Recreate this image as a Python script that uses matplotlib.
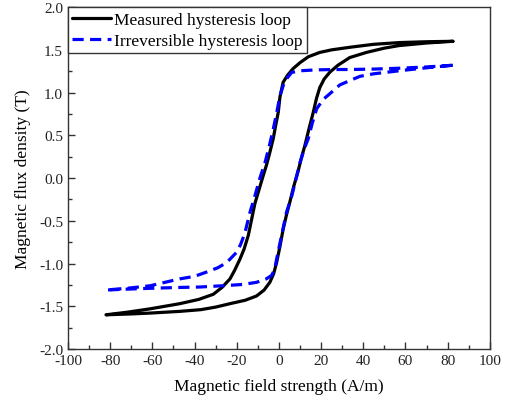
import numpy as np
import matplotlib.pyplot as plt
from matplotlib.ticker import MultipleLocator

# Measured hysteresis loop: descending branch (H from +82 to -82)
meas_desc_H = [82.5, 70, 57, 45, 33.6, 25, 19.4, 14, 10, 6.7, 4, 2, 0.5, -0.3, -1.5, -2.7,
               -4.3, -5.8, -7.3, -9, -11.4, -14.5, -16.5, -18.5, -21, -23.2, -27, -31.1,
               -38, -47, -61, -72, -82]
meas_desc_B = [1.60, 1.595, 1.585, 1.565, 1.53, 1.50, 1.47, 1.42, 1.35, 1.28, 1.20, 1.12,
               0.95, 0.77, 0.62, 0.46, 0.30, 0.16, 0.04, -0.10, -0.30, -0.67, -0.83, -0.95,
               -1.08, -1.18, -1.28, -1.36, -1.42, -1.47, -1.53, -1.57, -1.60]
# Measured hysteresis loop: ascending branch
meas_asc_H = [-82, -70, -61, -47, -37, -30, -23.2, -16, -10.6, -7, -4.3, -2.5, -1.1, 0.5, 2,
              3.6, 5.2, 7, 9.1, 10.5, 12.3, 14.3, 16.3, 17.8, 19.4, 21.5, 24.2, 28, 33.6,
              41.5, 50, 57, 70, 82.5]
meas_asc_B = [-1.60, -1.59, -1.58, -1.56, -1.54, -1.51, -1.47, -1.43, -1.38, -1.31, -1.22,
              -1.12, -0.99, -0.80, -0.60, -0.43, -0.28, -0.10, 0.08, 0.22, 0.38, 0.58, 0.77,
              0.93, 1.06, 1.16, 1.24, 1.32, 1.41, 1.47, 1.52, 1.55, 1.58, 1.60]

# Irreversible hysteresis loop: descending branch
irr_desc_H = [82.5, 70, 57, 45, 33.6, 25.6, 17, 10, 6, 3.6, 2, 0.5, -1, -2.7, -4.5, -6.6,
              -9, -11.4, -13.7, -16.1, -18.2, -20.1, -24.8, -29, -34.3, -40, -47, -61, -72, -82]
irr_desc_B = [1.32, 1.30, 1.285, 1.275, 1.27, 1.27, 1.265, 1.255, 1.235, 1.16, 1.08, 0.96,
              0.77, 0.57, 0.38, 0.18, 0.0, -0.21, -0.40, -0.64, -0.78, -0.87, -0.99, -1.05,
              -1.10, -1.15, -1.18, -1.26, -1.29, -1.31]
# Irreversible hysteresis loop: ascending branch
irr_asc_H = [-82, -72, -61, -47, -37.4, -26.5, -17, -10.6, -6, -3.5, -2, -1.1, 0, 1.3, 3.6,
             6, 8.2, 10, 12, 13.9, 15.8, 17.9, 21, 25.7, 28.9, 33.6, 38.4, 45, 57, 70, 82.5]
irr_asc_B = [-1.31, -1.30, -1.29, -1.28, -1.275, -1.26, -1.245, -1.22, -1.18, -1.14, -1.07,
             -0.95, -0.82, -0.67, -0.40, -0.22, 0.0, 0.18, 0.34, 0.46, 0.64, 0.81, 0.92, 1.02,
             1.09, 1.14, 1.19, 1.22, 1.255, 1.29, 1.32]

plt.rcParams['font.family'] = ['Liberation Serif', 'DejaVu Serif']
plt.rcParams['axes.unicode_minus'] = False

fig = plt.figure(figsize=(5.06, 4.06), dpi=100)
ax = fig.add_axes([0.1344, 0.138, 0.968 - 0.1344, 0.980 - 0.138])

meas_H = meas_desc_H + meas_asc_H
meas_B = meas_desc_B + meas_asc_B
irr_H = irr_desc_H + irr_asc_H
irr_B = irr_desc_B + irr_asc_B

ax.plot(meas_H, meas_B, color='black', lw=2.3, solid_joinstyle='round',
        solid_capstyle='round', label='Measured hysteresis loop')
ax.plot(irr_H, irr_B, color='#0000ff', lw=2.3, ls=(0, (3.5, 2)),
        label='Irreversible hysteresis loop')

ax.set_xlim(-100, 100)
ax.set_ylim(-2.0, 2.0)
ax.xaxis.set_major_locator(MultipleLocator(20))
ax.xaxis.set_minor_locator(MultipleLocator(10))
ax.yaxis.set_major_locator(MultipleLocator(0.5))
ax.yaxis.set_minor_locator(MultipleLocator(0.25))
ax.yaxis.set_major_formatter(plt.FuncFormatter(lambda v, _: f'{v:.1f}'))
ax.tick_params(which='both', direction='in', top=False, right=False,
               labelsize=11, colors='#333333', labelcolor='#222222')
ax.tick_params(which='major', length=5, width=1)
ax.tick_params(which='minor', length=3, width=1)
for s in ax.spines.values():
    s.set_color('#333333')
    s.set_linewidth(1.0)

ax.set_xlabel('Magnetic field strength (A/m)', fontsize=12.5, labelpad=8)
ax.set_ylabel('Magnetic flux density (T)', fontsize=12.5, labelpad=6)

leg = ax.legend(loc='upper left', borderaxespad=0, fontsize=12.5, frameon=True,
                fancybox=False, edgecolor='#333333', framealpha=1,
                handlelength=2.2, handletextpad=0.2, borderpad=0.25, labelspacing=0.3)
leg.get_frame().set_linewidth(1.0)

fig.savefig('out.png', dpi=100)
